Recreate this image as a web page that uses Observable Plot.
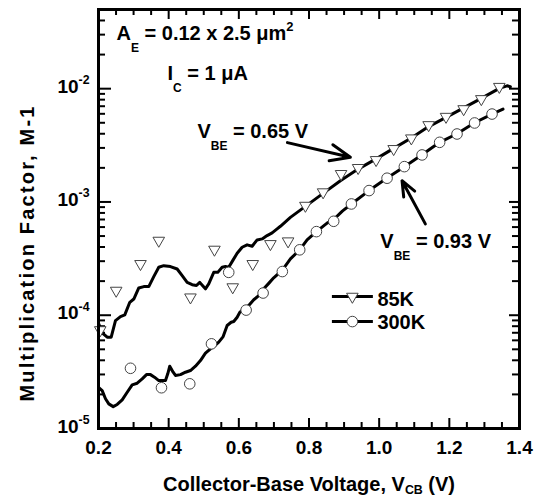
<!DOCTYPE html>
<html>
<head>
<meta charset="utf-8">
<script src="https://cdn.jsdelivr.net/npm/d3@7"></script>
<script src="https://cdn.jsdelivr.net/npm/@observablehq/plot@0.6"></script>
<style>
  html, body { margin: 0; padding: 0; background: #fff; }
  #chart { width: 546px; height: 496px; }
</style>
</head>
<body>
<div id="chart"></div>
<script>
// ---------- data ----------
// 85K measured curve: collector-base voltage (V) and multiplication factor M-1
const vcb85Line = [0.200,0.2105,0.2248,0.2362,0.2484,0.2627,0.2749,0.2892,0.3006,0.3148,0.3291,0.3433,0.3575,0.3718,0.3860,0.4051,0.4242,0.4385,0.4527,0.4670,0.4792,0.4886,0.4983,0.5048,0.5142,0.5285,0.5399,0.5524,0.5618,0.5712,0.5838,0.5952,0.6094,0.6236,0.6379,0.6521,0.6664,0.6806,0.6949,0.7091,0.7185,0.747,0.7897,0.8402,0.8895,0.9399,0.9912,1.0413,1.0917,1.141,1.1906,1.2408,1.2912,1.3425,1.3644,1.374];
const m85Line = [8.5e-5,7.0e-5,6.4e-5,6.4e-5,8.97e-5,9.73e-5,1.007e-4,1.30e-4,1.39e-4,1.74e-4,1.79e-4,1.79e-4,2.19e-4,2.65e-4,2.74e-4,2.69e-4,2.56e-4,2.24e-4,1.95e-4,1.86e-4,1.83e-4,1.95e-4,1.80e-4,1.71e-4,1.89e-4,2.39e-4,2.39e-4,2.65e-4,2.69e-4,2.65e-4,3.08e-4,3.52e-4,3.98e-4,4.18e-4,4.06e-4,4.62e-4,4.72e-4,5.05e-4,5.33e-4,5.78e-4,6.10e-4,7.31e-4,9.14e-4,1.19e-3,1.54e-3,1.95e-3,2.40e-3,2.97e-3,3.67e-3,4.63e-3,5.58e-3,6.76e-3,8.22e-3,1.007e-2,1.06e-2,1.04e-2];

// 85K model points (triangles)
const vcb85Pts = [0.205,0.2504,0.3197,0.3718,0.4621,0.5305,0.5826,0.6396,0.690,0.7404,0.7897,0.8402,0.8914,0.940,0.9912,1.0413,1.0917,1.141,1.1906,1.2408,1.2912,1.3425];
const m85Pts = [7.4e-5,1.65e-4,2.84e-4,4.56e-4,1.44e-4,3.80e-4,1.77e-4,2.84e-4,4.26e-4,4.50e-4,9.28e-4,1.22e-3,1.77e-3,2.00e-3,2.35e-3,2.94e-3,3.65e-3,4.78e-3,5.66e-3,6.61e-3,8.11e-3,1.04e-2];

// 300K measured curve
const vcb300Line = [0.2009,0.2105,0.2199,0.2293,0.2419,0.2533,0.2675,0.2818,0.296,0.3103,0.3245,0.3368,0.3481,0.3595,0.3718,0.3909,0.3974,0.4031,0.4128,0.4194,0.4336,0.4479,0.4621,0.4764,0.4906,0.5048,0.5191,0.5286,0.5427,0.5553,0.5667,0.5781,0.5855,0.5952,0.6026,0.614,0.6282,0.6425,0.6567,0.6709,0.6852,0.6994,0.724,0.747,0.7735,0.7945,0.8211,0.8515,0.8704,0.895,0.9208,0.9712,1.0225,1.0718,1.1222,1.1724,1.2219,1.272,1.3217,1.353];
const m300Line = [2.29e-5,2.16e-5,1.83e-5,1.65e-5,1.56e-5,1.63e-5,1.79e-5,2.09e-5,2.43e-5,2.51e-5,2.74e-5,2.99e-5,2.99e-5,2.84e-5,2.65e-5,2.65e-5,3.04e-5,3.55e-5,3.14e-5,2.94e-5,2.99e-5,3.14e-5,3.25e-5,3.55e-5,3.98e-5,4.62e-5,5.05e-5,5.29e-5,5.78e-5,6.48e-5,8.11e-5,8.67e-5,8.8e-5,9.6e-5,1.06e-4,1.14e-4,1.22e-4,1.37e-4,1.49e-4,1.71e-4,1.91e-4,2.14e-4,2.5e-4,3.14e-4,3.78e-4,4.62e-4,5.47e-4,6.5e-4,7.0e-4,8.3e-4,9.6e-4,1.26e-3,1.63e-3,2.05e-3,2.61e-3,3.36e-3,4.0e-3,5.0e-3,5.97e-3,6.61e-3];

// 300K model points (circles)
const vcb300Pts = [0.2912,0.3795,0.4601,0.522,0.5712,0.6208,0.6692,0.724,0.7735,0.8211,0.8704,0.9208,0.9712,1.0225,1.0718,1.1222,1.1724,1.2219,1.272,1.3217];
const m300Pts = [3.40e-5,2.29e-5,2.48e-5,5.59e-5,2.39e-4,1.11e-4,1.57e-4,2.43e-4,3.78e-4,5.47e-4,6.75e-4,9.6e-4,1.26e-3,1.62e-3,2.05e-3,2.60e-3,3.36e-3,3.98e-3,4.98e-3,5.97e-3];

// axes
const xDomain = [0.2, 1.4];
const yDomain = [1e-5, 5e-2];
const xTickValues = [0.2, 0.4, 0.6, 0.8, 1.0, 1.2, 1.4];
const xTickLabels = ["0.2", "0.4", "0.6", "0.8", "1.0", "1.2", "1.4"];
const yTickValues = [1e-5, 1e-4, 1e-3, 1e-2];
const yTickLabels = ["10^{-5}", "10^{-4}", "10^{-3}", "10^{-2}"];
const xTitle = "Collector-Base Voltage, V_{CB} (V)";
const yTitle = "Multiplication Factor, M-1";

// legend
const legendLabels = ["85K", "300K"];
const legendSymbols = ["triangle", "circle"];
const legendLineY = [1.46e-4, 8.79e-5];
const legendTextY = [1.217e-4, 7.62e-5];
const legendX1 = 0.8667, legendX2 = 0.9835, legendXMark = 0.9236, legendXText = 0.9949;

// annotations
const noteTexts = ["A_{E} = 0.12 x 2.5 μm^{2}", "I_{C} = 1 μA", "V_{BE} = 0.65 V", "V_{BE} = 0.93 V"];
const noteX = [0.2513, 0.3966, 0.482, 1.0034];
const noteY = [2.706e-2, 1.20e-2, 3.70e-3, 3.95e-4];
const arrowX1 = [0.7385, 1.1316], arrowY1 = [3.34e-3, 6.40e-4];
const arrowX2 = [0.918, 1.0652], arrowY2 = [2.48e-3, 1.54e-3];

// ---------- tables built from the arrays ----------
const zip = (xs, ys) => xs.map((x, i) => ({x, y: ys[i]}));
const line85 = zip(vcb85Line, m85Line);
const pts85 = zip(vcb85Pts, m85Pts);
const line300 = zip(vcb300Line, m300Line);
const pts300 = zip(vcb300Pts, m300Pts);
const xTicks = xTickValues.map((v, i) => ({v, label: xTickLabels[i]}));
const yTicks = yTickValues.map((v, i) => ({v, label: yTickLabels[i]}));
const xMinor = d3.range(4, 28).map(k => k * 0.05).filter(v => Math.abs(v * 5 - Math.round(v * 5)) > 1e-6);
const yMinor = [];
for (let e = -5; e <= -2; e++) for (let k = 2; k <= 9; k++) { const v = k * 10 ** e; if (v <= yDomain[1] * 1.0001) yMinor.push(v); }
const legendRows = legendLabels.map((l, i) => ({label: l, symbol: legendSymbols[i], y: legendLineY[i], ty: legendTextY[i], x1: legendX1, x2: legendX2, xm: legendXMark, xt: legendXText}));
const notes = noteTexts.map((t, i) => ({t, x: noteX[i], y: noteY[i]}));
const arrows = arrowX1.map((x1, i) => ({x1, y1: arrowY1[i], x2: arrowX2[i], y2: arrowY2[i]}));

// ---------- plot ----------
const W = 546, H = 496;
const mL = 98, mR = 27, mT = 9, mB = 68;
const pw = W - mL - mR, ph = H - mT - mB;
const FONT = "'Liberation Sans', Arial, Helvetica, sans-serif";

const chart = Plot.plot({
  width: W, height: H,
  marginLeft: mL, marginRight: mR, marginTop: mT, marginBottom: mB,
  style: {fontFamily: FONT, fontWeight: "bold", fontSize: "19px", background: "#fff", color: "#000", overflow: "visible"},
  x: {domain: xDomain, axis: null},
  y: {type: "log", domain: yDomain, axis: null},
  marks: [
    // ticks (inward) on all four sides
    Plot.tickX(xMinor, {x: d => d, insetTop: ph - 6, strokeWidth: 2}),
    Plot.tickX(xMinor, {x: d => d, insetBottom: ph - 6, strokeWidth: 2}),
    Plot.tickX(xTicks, {x: "v", insetTop: ph - 10, strokeWidth: 2}),
    Plot.tickX(xTicks, {x: "v", insetBottom: ph - 10, strokeWidth: 2}),
    Plot.tickY(yMinor, {y: d => d, insetRight: pw - 7, strokeWidth: 2}),
    Plot.tickY(yMinor, {y: d => d, insetLeft: pw - 7, strokeWidth: 2}),
    Plot.tickY(yTicks, {y: "v", insetRight: pw - 13, strokeWidth: 2}),
    Plot.tickY(yTicks, {y: "v", insetLeft: pw - 10, strokeWidth: 2}),
    // data
    Plot.line(line85, {x: "x", y: "y", stroke: "#000", strokeWidth: 3}),
    Plot.line(line300, {x: "x", y: "y", stroke: "#000", strokeWidth: 3}),
    Plot.dot(pts85, {x: "x", y: "y", symbol: "triangle", rotate: 180, r: 4.3, fill: "#fff", stroke: "#444", strokeWidth: 1}),
    Plot.dot(pts300, {x: "x", y: "y", symbol: "circle", r: 5.3, fill: "#fff", stroke: "#444", strokeWidth: 1}),
    // legend
    Plot.ruleY(legendRows, {y: "y", x1: "x1", x2: "x2", stroke: "#000", strokeWidth: 3}),
    Plot.dot(legendRows.slice(0, 1), {x: "xm", y: "y", symbol: "triangle", rotate: 180, r: 4.3, fill: "#fff", stroke: "#444", strokeWidth: 1}),
    Plot.dot(legendRows.slice(1), {x: "xm", y: "y", symbol: "circle", r: 5.3, fill: "#fff", stroke: "#444", strokeWidth: 1}),
    Plot.text(legendRows, {x: "xt", y: "ty", text: "label", textAnchor: "start", lineAnchor: "bottom", fontSize: 20, fontWeight: "bold"}),
    // annotations
    Plot.text(notes, {x: "x", y: "y", text: "t", textAnchor: "start", lineAnchor: "bottom", fontSize: 20, fontWeight: "bold"}),
    Plot.arrow(arrows, {x1: "x1", y1: "y1", x2: "x2", y2: "y2", stroke: "#000", strokeWidth: 3, headLength: 14, headAngle: 45}),
    // tick labels
    Plot.text(xTicks, {x: "v", text: "label", frameAnchor: "bottom", textAnchor: "middle", lineAnchor: "bottom", dy: 25, fontSize: 19, fontWeight: "bold"}),
    Plot.text(yTicks, {y: "v", text: "label", frameAnchor: "left", textAnchor: "end", lineAnchor: "bottom", dx: -9, dy: 4, fontSize: 19, fontWeight: "bold"}),
    // axis titles
    Plot.text([xTitle], {text: d => d, frameAnchor: "bottom", textAnchor: "middle", lineAnchor: "bottom", dy: 62, fontSize: 20, fontWeight: "bold"}),
    Plot.text([yTitle], {text: d => d, frameAnchor: "left", textAnchor: "middle", lineAnchor: "bottom", rotate: -90, dx: -65, dy: 34, fontSize: 20, fontWeight: "bold"}),
    // frame
    Plot.frame({stroke: "#000", strokeWidth: 3})
  ]
});

document.getElementById("chart").appendChild(chart);

// ---------- rich text: _{sub} and ^{sup} -> tspans ----------
const richParams = {
  [xTitle]: {sub: 0.15, subSize: 0.62},
};
function richify(root) {
  root.querySelectorAll("text").forEach(t => {
    const s = t.textContent;
    if (!/[_^]\{/.test(s)) return;
    const o = richParams[s] || {};
    const fs = parseFloat(getComputedStyle(t).fontSize);
    while (t.firstChild) t.removeChild(t.firstChild);
    const re = /([_^])\{([^}]*)\}/g;
    let last = 0, m, offset = 0;
    const add = (txt, size, dy) => {
      const sp = document.createElementNS("http://www.w3.org/2000/svg", "tspan");
      sp.textContent = txt;
      if (size) sp.setAttribute("font-size", size);
      if (dy) sp.setAttribute("dy", dy);
      t.appendChild(sp);
    };
    while ((m = re.exec(s))) {
      if (m.index > last) { add(s.slice(last, m.index), null, -offset); offset = 0; }
      const isSub = m[1] === "_";
      const shift = isSub ? (o.sub ?? 0.62) * fs : -(o.sup ?? 0.45) * fs;
      const size = (isSub ? (o.subSize ?? 0.6) : (o.supSize ?? 0.65)) * fs;
      add(m[2], size, shift - offset);
      offset = shift;
      last = re.lastIndex;
    }
    if (last < s.length) add(s.slice(last), null, -offset);
  });
  root.querySelectorAll("text").forEach(t => {
    if (t.textContent === yTitle) t.style.letterSpacing = "2.2px";
    if (t.textContent === "Collector-Base Voltage, CB (V)") t.style.letterSpacing = "0.3px";
  });
}
richify(chart);
</script>
</body>
</html>
